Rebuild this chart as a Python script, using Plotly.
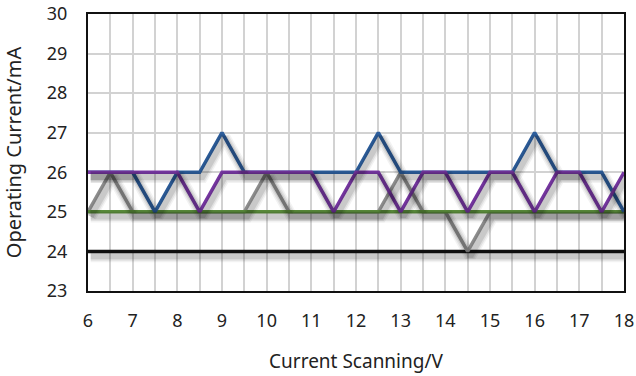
import plotly.graph_objects as go

# Scan voltage (V) sampled every 0.5 V
voltage = [6, 6.5, 7, 7.5, 8, 8.5, 9, 9.5, 10, 10.5, 11, 11.5, 12, 12.5,
           13, 13.5, 14, 14.5, 15, 15.5, 16, 16.5, 17, 17.5, 18]

# Operating current (mA) for each unit
blue_ma = [26, 26, 26, 25, 26, 26, 27, 26, 26, 26, 26, 26, 26, 27,
           26, 26, 26, 26, 26, 26, 27, 26, 26, 26, 25]
purple_ma = [26, 26, 26, 26, 26, 25, 26, 26, 26, 26, 26, 25, 26, 26,
             25, 26, 26, 25, 26, 26, 25, 26, 26, 25, 26]
gray_ma = [25, 26, 25, 25, 25, 25, 25, 25, 26, 25, 25, 25, 25, 25,
           26, 25, 25, 24, 25, 25, 25, 25, 25, 25, 25]
green_ma = [25] * 25
black_ma = [24] * 25

x_ticks = [6, 7, 8, 9, 10, 11, 12, 13, 14, 15, 16, 17, 18]
y_ticks = [23, 24, 25, 26, 27, 28, 29, 30]

# drawing order: bottom to top
series = [
    (black_ma, "#111111"),
    (gray_ma, "#939393"),
    (green_ma, "#5c8e3d"),
    (blue_ma, "#2d5e9c"),
    (purple_ma, "#7a38a6"),
]

fig = go.Figure()

# soft drop shadows on a slightly shifted overlay axis pair
for ys, _ in series:
    for w, a in [(12, 0.05), (9, 0.07), (6, 0.10)]:
        fig.add_trace(go.Scatter(
            x=voltage, y=ys, mode="lines", xaxis="x2", yaxis="y2",
            line=dict(color=f"rgba(0,0,0,{a})", width=w),
            hoverinfo="skip", showlegend=False))

for ys, col in series:
    fig.add_trace(go.Scatter(
        x=voltage, y=ys, mode="lines",
        line=dict(color=col, width=3.5), showlegend=False))

tick_font = dict(family="Noto Sans, Open Sans, sans-serif", size=18, color="#222")

fig.update_layout(
    width=636, height=376,
    margin=dict(l=88, r=12, t=14, b=85),
    paper_bgcolor="white", plot_bgcolor="white",
    xaxis=dict(
        range=[6, 18], tickvals=x_ticks, showgrid=True, automargin=False,
        gridcolor="#d2d2d2", gridwidth=1.5,
        minor=dict(dtick=0.5, showgrid=True, gridcolor="#d2d2d2", gridwidth=1.5),
        showline=True, linecolor="#111", linewidth=2, mirror=True,
        zeroline=False, tickfont=tick_font, ticks="", ticklabelstandoff=12,
        title=dict(text="Current Scanning/V", standoff=24,
                   font=dict(family="Noto Sans, sans-serif", size=19, color="#222")),
    ),
    yaxis=dict(
        range=[23, 30], tickvals=y_ticks, showgrid=True, automargin=False,
        gridcolor="#d2d2d2", gridwidth=1.5,
        showline=True, linecolor="#111", linewidth=2, mirror=True,
        zeroline=False, tickfont=tick_font, ticks="", ticklabelstandoff=15,
        title=dict(text="Operating Current/mA", standoff=20,
                   font=dict(family="Noto Sans, sans-serif", size=20, color="#222")),
    ),
    xaxis2=dict(range=[6 - 0.06, 18 - 0.06], overlaying="x", visible=False),
    yaxis2=dict(range=[23 + 0.12, 30 + 0.12], overlaying="y", visible=False),
)

fig.write_html("out.html")
